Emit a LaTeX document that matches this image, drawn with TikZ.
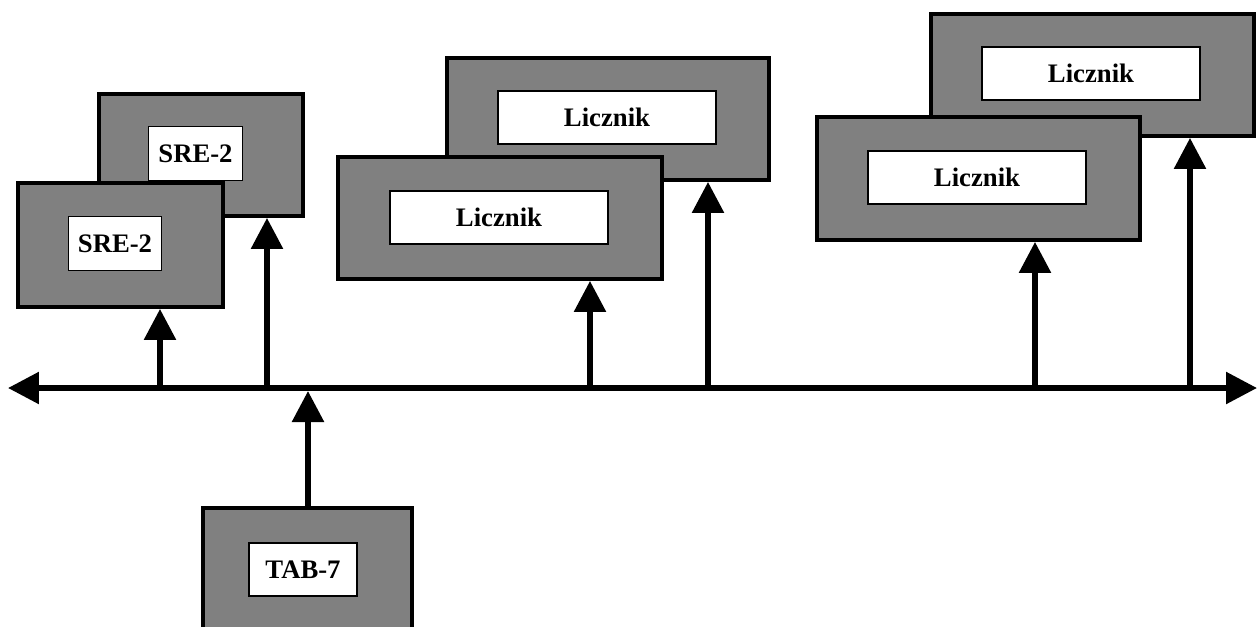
\documentclass[tikz,border=0pt]{standalone}
\usepackage{fontspec}
\setmainfont{Liberation Serif}
\usetikzlibrary{arrows.meta}

\tikzset{
  modul/.style={draw, line width=2.2pt, fill=gray, inner sep=0pt},
  etykieta/.style={draw, line width=0.7pt, fill=white, inner sep=0pt,
    font=\fontsize{15.2}{17}\selectfont\bfseries},
  grot/.tip={Triangle[length=0.62cm, width=0.62cm]},
  strzalka/.style={line width=3.2pt, -grot},
}

\begin{document}
\begin{tikzpicture}[x=0.02cm, y=-0.02cm]  % 1 jednostka = 1 piksel

    \useasboundingbox (0,0) rectangle (1258,626);
    \clip (0,0) rectangle (1258,626);

    % moduly SRE-2
    \node[modul, minimum width=4.08cm, minimum height=2.44cm] (sreB) at (201,155) {}; % tylny
    \node[etykieta, minimum width=1.87cm, minimum height=1.08cm] (sreBt) at (195.5,153.5) {SRE-2};
    \node[modul, minimum width=4.1cm, minimum height=2.48cm] (sreF) at (120.5,245) {}; % przedni
    \node[etykieta, minimum width=1.87cm, minimum height=1.08cm] (sreFt) at (115,243.5) {SRE-2};

    % liczniki srodkowe
    \node[modul, minimum width=6.44cm, minimum height=2.44cm] (licB) at (608,119) {};
    \node[etykieta, minimum width=4.36cm, minimum height=1.06cm] (licBt) at (607,117.5) {Licznik};
    \node[modul, minimum width=6.48cm, minimum height=2.44cm] (licF) at (500,218) {};
    \node[etykieta, minimum width=4.36cm, minimum height=1.06cm] (licFt) at (499,217.5) {Licznik};

    % liczniki prawe
    \node[modul, minimum width=6.46cm, minimum height=2.44cm] (prB) at (1092.5,75) {};
    \node[etykieta, minimum width=4.36cm, minimum height=1.06cm] (prBt) at (1091,73.5) {Licznik};
    \node[modul, minimum width=6.46cm, minimum height=2.46cm] (prF) at (978.5,178.5) {};
    \node[etykieta, minimum width=4.36cm, minimum height=1.06cm] (prFt) at (977,177.5) {Licznik};

    % modul TAB-7
    \node[modul, minimum width=4.18cm, minimum height=5cm] (tab) at (307.5,633) {};
    \node[etykieta, minimum width=2.16cm, minimum height=1.06cm] (tabt) at (303,569.5) {TAB-7};

    % magistrala
    \coordinate (L) at (8,388);
    \coordinate (R) at (1257,388);
    \draw[line width=3.2pt, grot-grot] (L) -- (R);

    % polaczenia z magistrala
    \coordinate (s1) at (160,388);
    \coordinate (s2) at (267,388);
    \coordinate (s3) at (590,388);
    \coordinate (s4) at (708,388);
    \coordinate (s5) at (1035,388);
    \coordinate (s6) at (1190,388);
    \coordinate (t) at (308,391);
    \draw[strzalka] (s1) -- (s1 |- sreF.south);
    \draw[strzalka] (s2) -- (s2 |- sreB.south);
    \draw[strzalka] (s3) -- (s3 |- licF.south);
    \draw[strzalka] (s4) -- (s4 |- licB.south);
    \draw[strzalka] (s5) -- (s5 |- prF.south);
    \draw[strzalka] (s6) -- (s6 |- prB.south);
    \draw[strzalka] (tab.north -| t) -- (t);

\end{tikzpicture}
\end{document}
